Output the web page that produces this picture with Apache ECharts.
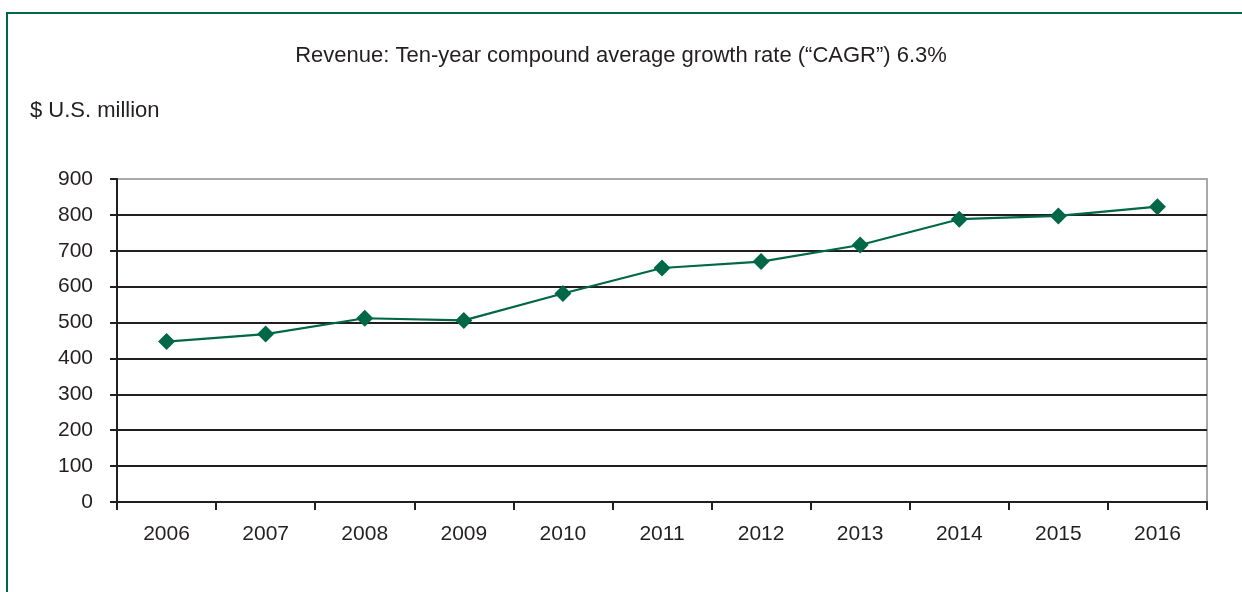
<!DOCTYPE html>
<html>
<head>
<meta charset="utf-8">
<script src="https://cdn.jsdelivr.net/npm/echarts@6/dist/echarts.min.js"></script>
<style>
html,body{margin:0;padding:0;background:#fff;}
#chart{width:1242px;height:592px;}
</style>
</head>
<body>
<div id="chart"></div>
<script>
const categories = ['2006','2007','2008','2009','2010','2011','2012','2013','2014','2015','2016'];
const revenue = [447, 468, 512, 506, 581, 652, 670, 716, 788, 797, 823];
const yTicks = [0, 100, 200, 300, 400, 500, 600, 700, 800, 900];
const titleText = 'Revenue: Ten-year compound average growth rate (\u201cCAGR\u201d) 6.3%';
const unitText = '$ U.S. million';

const FONT = "'Liberation Sans', Arial, Helvetica, sans-serif";
const dark = '#231f20';
const green = '#006747';

const chart = echarts.init(document.getElementById('chart'), null, {renderer: 'canvas'});
const splitColors = yTicks.map((v, i) => i === yTicks.length - 1 ? '#a7a9ac' : dark);

chart.setOption({
  animation: false,
  backgroundColor: '#fff',
  graphic: [
    {type: 'rect', shape: {x: 7, y: 13, width: 1400, height: 800}, style: {fill: 'none', stroke: green, lineWidth: 2}, z: 100},
    {type: 'text', left: 'center', top: 45, style: {text: titleText, font: '22px ' + FONT, fill: dark}},
    {type: 'text', left: 30, top: 100, style: {text: unitText, font: '22px ' + FONT, fill: dark}}
  ],
  grid: {left: 117, right: 35, top: 179, bottom: 90, show: true, borderColor: '#a7a9ac', borderWidth: 2, containLabel: false},
  xAxis: {
    type: 'category',
    data: categories,
    boundaryGap: true,
    axisLine: {show: true, lineStyle: {color: dark, width: 2}},
    axisTick: {show: true, length: 8, lineStyle: {color: dark, width: 2}},
    axisLabel: {color: dark, fontFamily: FONT, fontSize: 21, margin: 22}
  },
  yAxis: {
    type: 'value',
    min: 0, max: 900, interval: 100,
    axisLine: {show: true, lineStyle: {color: dark, width: 2}},
    axisTick: {show: true, length: 7, lineStyle: {color: dark, width: 2}},
    axisLabel: {color: dark, fontFamily: FONT, fontSize: 21, margin: 24},
    splitLine: {show: true, lineStyle: {color: splitColors, width: 2}}
  },
  series: [{
    type: 'line',
    data: revenue,
    symbol: 'diamond',
    symbolSize: 17,
    lineStyle: {color: green, width: 2.2},
    itemStyle: {color: green},
    z: 10
  }]
});
</script>
</body>
</html>
